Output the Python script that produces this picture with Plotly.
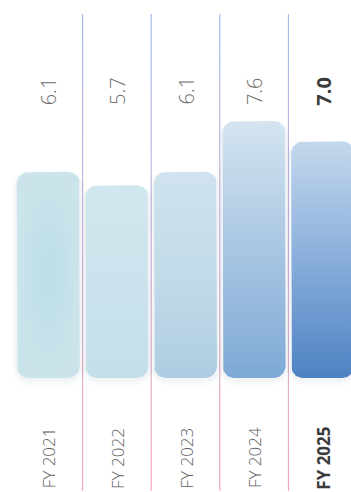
import numpy as np
import plotly.graph_objects as go

# Fiscal-year values
categories = ["FY 2021", "FY 2022", "FY 2023", "FY 2024", "FY 2025"]
values = [6.1, 5.7, 6.1, 7.6, 7.0]
value_labels = ["6.1", "5.7", "6.1", "7.6", "7.0"]
highlight = "FY 2025"

# Per-bar gradient fills: (type, colour stops low->high)
bar_fills = [
    ("radial", [[0, "#bcdde5"], [0.5, "#c3e0e8"], [1, "#cbe4eb"]]),
    ("vertical", [[0, "#c4dfe8"], [1, "#d1e7ef"]]),
    ("vertical", [[0, "#aecce2"], [0.5, "#c2dbe8"], [1, "#d0e3ee"]]),
    ("vertical", [[0, "#7ea9d6"], [0.5, "#a9c6e2"], [1, "#d4e4f0"]]),
    ("vertical", [[0, "#4d82c3"], [0.5, "#89aedb"], [1, "#c4d8ec"]]),
]

W, H = 351, 492
PX_X = 68.6     # pixels per category step
PX_Y = 33.8     # pixels per value unit
X0_PX = 48.3    # centre of the first category
BASE_PX = 378   # pixel row of value 0
BAR_HALF_PX = 31.5
RADIUS_PX = 12

x_range = [-X0_PX / PX_X, (W - X0_PX) / PX_X]
y_range = [-(H - BASE_PX) / PX_Y, BASE_PX / PX_Y]


def px_to_y(py):
    return (BASE_PX - py) / PX_Y


def rounded_rect(xc, y_bot, y_top, half_px, r_px, pad_px=0.0, drop_px=0.0, n=10):
    hw = (half_px + pad_px) / PX_X
    rx = (r_px + pad_px) / PX_X
    ry = (r_px + pad_px) / PX_Y
    yb = y_bot - (pad_px + drop_px) / PX_Y
    yt = y_top + (pad_px - drop_px) / PX_Y
    xl, xr = xc - hw, xc + hw
    corners = [
        (xr - rx, yb + ry, -90, 0),
        (xr - rx, yt - ry, 0, 90),
        (xl + rx, yt - ry, 90, 180),
        (xl + rx, yb + ry, 180, 270),
    ]
    xs, ys = [], []
    for cx, cy, a0, a1 in corners:
        t = np.radians(np.linspace(a0, a1, n))
        xs.extend(cx + rx * np.cos(t))
        ys.extend(cy + ry * np.sin(t))
    xs.append(xs[0])
    ys.append(ys[0])
    return xs, ys


fig = go.Figure()

# Column separators with a blue-to-pink vertical gradient
sep_top, sep_bot = px_to_y(14), px_to_y(491)
sep_half = 0.55 / PX_X
for i in range(len(categories) - 1):
    xm = i + 0.5
    fig.add_trace(go.Scatter(
        x=[xm - sep_half, xm + sep_half, xm + sep_half, xm - sep_half, xm - sep_half],
        y=[sep_bot, sep_bot, sep_top, sep_top, sep_bot],
        mode="lines", line=dict(width=0), fill="toself",
        fillgradient=dict(type="vertical", start=sep_bot, stop=sep_top,
                          colorscale=[[0, "#f4a0ae"], [0.5, "#c8b0d8"], [1, "#9fb6ea"]]),
        hoverinfo="skip", showlegend=False,
    ))

# Soft shadows beneath the bars
for i, v in enumerate(values):
    for pad, drop, alpha in [(5, 4, 0.012), (3, 3, 0.018), (1.5, 2, 0.025)]:
        xs, ys = rounded_rect(i, 0, v, BAR_HALF_PX, RADIUS_PX, pad, drop)
        fig.add_trace(go.Scatter(
            x=xs, y=ys, mode="lines", line=dict(width=0), fill="toself",
            fillcolor=f"rgba(40,60,80,{alpha})", hoverinfo="skip", showlegend=False,
        ))

# Bars with gradient fills and rounded corners
for i, v in enumerate(values):
    kind, stops = bar_fills[i]
    xs, ys = rounded_rect(i, 0, v, BAR_HALF_PX, RADIUS_PX)
    if kind == "radial":
        grad = dict(type="radial", colorscale=stops)
    else:
        grad = dict(type="vertical", start=0, stop=v, colorscale=stops)
    fig.add_trace(go.Scatter(
        x=xs, y=ys, mode="lines", line=dict(width=0), fill="toself",
        fillgradient=grad, name=categories[i],
        hovertemplate=f"{categories[i]}: {value_labels[i]}<extra></extra>",
        showlegend=False,
    ))

# Rotated value labels and category labels
for i, cat in enumerate(categories):
    is_hl = cat == highlight
    fig.add_annotation(
        x=i, y=px_to_y(91), text=value_labels[i], textangle=-90, showarrow=False,
        xanchor="center", yanchor="middle",
        font=dict(family="Open Sans", size=20, weight=700 if is_hl else 300,
                  color="#3a3a3a" if is_hl else "#6a6a6a"),
    )
    fig.add_annotation(
        x=i, y=px_to_y(458), text=cat, textangle=-90, showarrow=False,
        xanchor="center", yanchor="middle",
        font=dict(family="Open Sans", size=17, weight=700 if is_hl else 300,
                  color="#3a3a3a" if is_hl else "#5e5e5e"),
    )

fig.update_layout(
    width=W, height=H,
    margin=dict(l=0, r=0, t=0, b=0),
    paper_bgcolor="white", plot_bgcolor="white",
    xaxis=dict(range=x_range, visible=False, fixedrange=True),
    yaxis=dict(range=y_range, visible=False, fixedrange=True),
    showlegend=False,
)

fig.write_html("out.html")
